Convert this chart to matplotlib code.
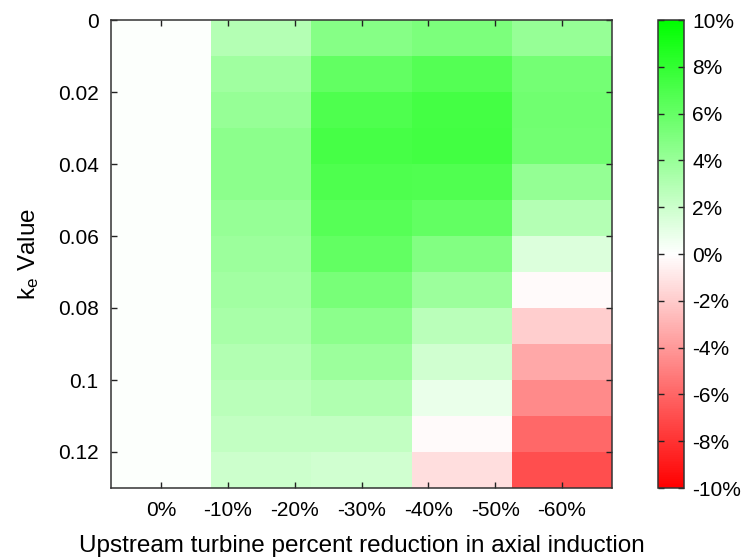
"""Heatmap of power gain vs. k_e and upstream turbine axial-induction reduction."""
import numpy as np
import matplotlib.pyplot as plt
from matplotlib.colors import LinearSegmentedColormap

plt.rcParams["font.family"] = ["Liberation Sans", "DejaVu Sans"]
plt.rcParams["mathtext.fontset"] = "custom"
plt.rcParams["mathtext.rm"] = "Liberation Sans"
plt.rcParams["mathtext.it"] = "Liberation Sans"

# upstream turbine reduction in axial induction (%), column centres
reduction = [0, -15, -30, -45, -60]
# k_e row edges
ke_edges = [0.0, 0.01, 0.02, 0.03, 0.04, 0.05, 0.06, 0.07,
            0.08, 0.09, 0.10, 0.11, 0.12, 0.13]

# percent change, one list per reduction column, top row (k_e=0) first
gain_0 = [0.15, 0.15, 0.15, 0.15, 0.15, 0.15, 0.15, 0.15, 0.15, 0.15, 0.15, 0.15, 0.15]
gain_15 = [2.9, 3.7, 4.1, 4.5, 4.5, 4.1, 3.9, 3.6, 3.4, 3.0, 2.7, 2.4, 2.0]
gain_30 = [4.7, 6.1, 6.9, 7.2, 6.9, 6.6, 6.1, 5.3, 4.5, 3.9, 3.1, 2.4, 1.8]
gain_45 = [5.1, 6.7, 7.3, 7.4, 6.8, 6.1, 4.9, 3.9, 2.7, 1.8, 0.8, -0.2, -1.3]
gain_60 = [4.1, 5.4, 5.6, 5.5, 4.2, 2.9, 1.4, -0.2, -1.9, -3.4, -4.6, -5.9, -6.9]

ytick_vals = [0, 0.02, 0.04, 0.06, 0.08, 0.1, 0.12]
ytick_labels = ["0", "0.02", "0.04", "0.06", "0.08", "0.1", "0.12"]
xtick_vals = [0, -10, -20, -30, -40, -50, -60]
cbar_ticks = [-10, -8, -6, -4, -2, 0, 2, 4, 6, 8, 10]

gain = np.column_stack([gain_0, gain_15, gain_30, gain_45, gain_60])
x = np.array(reduction, dtype=float)
half = (x[0] - x[1]) / 2
x_edges = np.concatenate([x + half, [x[-1] - half]])

cmap = LinearSegmentedColormap.from_list("rwg", [(1, 0, 0), (1, 1, 1), (0, 1, 0)])

fig = plt.figure(figsize=(7.48, 5.58), dpi=100)
ax = fig.add_axes([111 / 748, 1 - 488 / 558, 501 / 748, 468 / 558])
mesh = ax.pcolormesh(x_edges, ke_edges, gain, cmap=cmap, vmin=-10, vmax=10,
                     shading="flat")
ax.set_xlim(x_edges[0], x_edges[-1])
ax.set_ylim(ke_edges[-1], ke_edges[0])

ax.set_xticks(xtick_vals)
ax.set_xticklabels([f"{v}%" for v in xtick_vals])
ax.set_yticks(ytick_vals)
ax.set_yticklabels(ytick_labels)
ax.tick_params(direction="in", length=4, width=1, top=True, right=True,
               labelsize=15, pad=9, color="#222222")
for s in ax.spines.values():
    s.set_linewidth(1.1)
    s.set_color("#333333")

ax.set_xlabel("Upstream turbine percent reduction in axial induction",
              fontsize=17.5, labelpad=11)
ax.set_ylabel(r"k$_\mathregular{e}$ Value", fontsize=17.5, labelpad=12)

cax = fig.add_axes([658 / 748, 1 - 488 / 558, 26 / 748, 468 / 558])
cb = fig.colorbar(mesh, cax=cax, ticks=cbar_ticks)
cb.ax.set_yticklabels([f"{v}%" for v in cbar_ticks])
cax.tick_params(direction="in", length=4, width=1, left=True, right=True,
                labelsize=15, pad=6, color="#222222")
cb.outline.set_linewidth(1.1)
cb.outline.set_edgecolor("#333333")

fig.savefig("out.png", dpi=100)
